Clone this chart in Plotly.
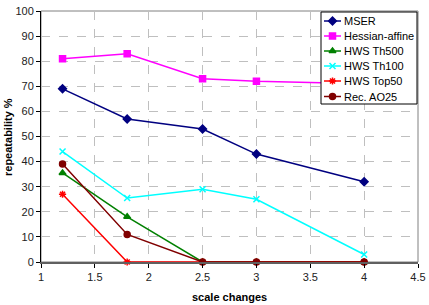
import plotly.graph_objects as go

x_vals = [1.2, 1.8, 2.5, 3, 4]
mser = [69, 57, 53, 43, 32]
hessian = [81, 83, 73, 72, 71]
th500 = [35.5, 18, 0, 0, 0]
th100 = [44, 25.5, 29, 25, 3]
top50 = [27, 0, 0, 0, 0]
rec_ao25 = [39, 11, 0, 0, 0]

series = [
    ("MSER", mser, "#000080", "diamond", 6),
    ("Hessian-affine", hessian, "#FF00FF", "square", 6),
    ("HWS Th500", th500, "#008000", "triangle-up", 6),
    ("HWS Th100", th100, "#00FFFF", "x-thin-open", 6),
    ("HWS Top50", top50, "#FF0000", "asterisk-open", 6),
    ("Rec. AO25", rec_ao25, "#800000", "circle", 6),
]

# plot area in pixels
L, R, T, B = 41, 418, 11, 262
W, H = 429, 305

fig = go.Figure()
for name, ys, col, sym, sz in series:
    fig.add_trace(go.Scatter(
        x=x_vals, y=ys, name=name, mode="lines+markers",
        line=dict(color=col, width=1.5),
        marker=dict(symbol=sym, size=sz, color=col, line=dict(color=col, width=1.5)),
        cliponaxis=False, showlegend=False,
    ))

# manual legend drawn on an overlay axis measured in pixels
leg_x0, leg_x1, leg_y0, leg_y1 = 321, 417, 12, 104
row_y = [21, 36, 51, 66, 81, 96.5]
fig.add_trace(go.Scatter(
    x=[leg_x0, leg_x1, leg_x1, leg_x0, leg_x0], y=[leg_y0, leg_y0, leg_y1, leg_y1, leg_y0],
    xaxis="x2", yaxis="y2", mode="lines", fill="toself", fillcolor="white",
    line=dict(color="#000", width=1), showlegend=False, hoverinfo="skip",
))
annotations = []
for (name, ys, col, sym, sz), ry in zip(series, row_y):
    fig.add_trace(go.Scatter(
        x=[324, 341], y=[ry, ry], xaxis="x2", yaxis="y2", mode="lines",
        line=dict(color=col, width=1.5), showlegend=False, hoverinfo="skip",
    ))
    fig.add_trace(go.Scatter(
        x=[332.5], y=[ry], xaxis="x2", yaxis="y2", mode="markers",
        marker=dict(symbol=sym, size=sz, color=col, line=dict(color=col, width=1.5)),
        showlegend=False, hoverinfo="skip",
    ))
    annotations.append(dict(x=(342 - L) / (R - L), y=(B - ry) / (B - T), xref="paper", yref="paper",
                            text=name, showarrow=False, xanchor="left", yanchor="middle",
                            font=dict(size=11, color="#000")))

annotations.append(dict(x=(229.5 - L) / (R - L), y=(B - 297) / (B - T), xref="paper", yref="paper",
                        text="<b>scale changes</b>", showarrow=False,
                        xanchor="center", yanchor="middle", font=dict(size=11, color="#000")))
annotations.append(dict(x=(8 - L) / (R - L), y=(B - 137) / (B - T), xref="paper", yref="paper",
                        text="<b>repeatability %</b>", showarrow=False, textangle=-90,
                        xanchor="center", yanchor="middle", font=dict(size=11, color="#000")))

fig.update_layout(
    width=W, height=H,
    margin=dict(l=L, r=W - R, t=T, b=H - B),
    paper_bgcolor="white", plot_bgcolor="white",
    font=dict(family="Liberation Sans, Arial, sans-serif", size=11, color="#000"),
    showlegend=False,
    hovermode=False,
    xaxis=dict(
        range=[1, 4.5], tick0=1, dtick=0.5, showgrid=True,
        gridcolor="#BFBFBF", griddash="dash", gridwidth=1,
        showline=True, linecolor="#606060", linewidth=2,
        ticks="outside", ticklen=4, tickcolor="#000",
        zeroline=False, automargin=False,
        tickfont=dict(size=11, color="#222"),
    ),
    yaxis=dict(
        range=[0, 100], tick0=0, dtick=10, showgrid=True,
        gridcolor="#BFBFBF", griddash="dash", gridwidth=1,
        showline=True, linecolor="#000", linewidth=1,
        ticks="outside", ticklen=4, tickcolor="#000",
        zeroline=False, automargin=False,
        tickfont=dict(size=11, color="#222"),
    ),
    xaxis2=dict(overlaying="x", range=[L, R], visible=False, fixedrange=True),
    yaxis2=dict(overlaying="y", range=[B, T], visible=False, fixedrange=True),
    annotations=annotations,
)
fig.add_shape(type="rect", xref="paper", yref="paper", x0=0, y0=0, x1=1, y1=1,
              line=dict(color="#808080", width=1), layer="below")

fig.write_html("out.html", config={"displayModeBar": False},
               post_script="document.body.style.margin='0';document.body.style.overflow='hidden';")
